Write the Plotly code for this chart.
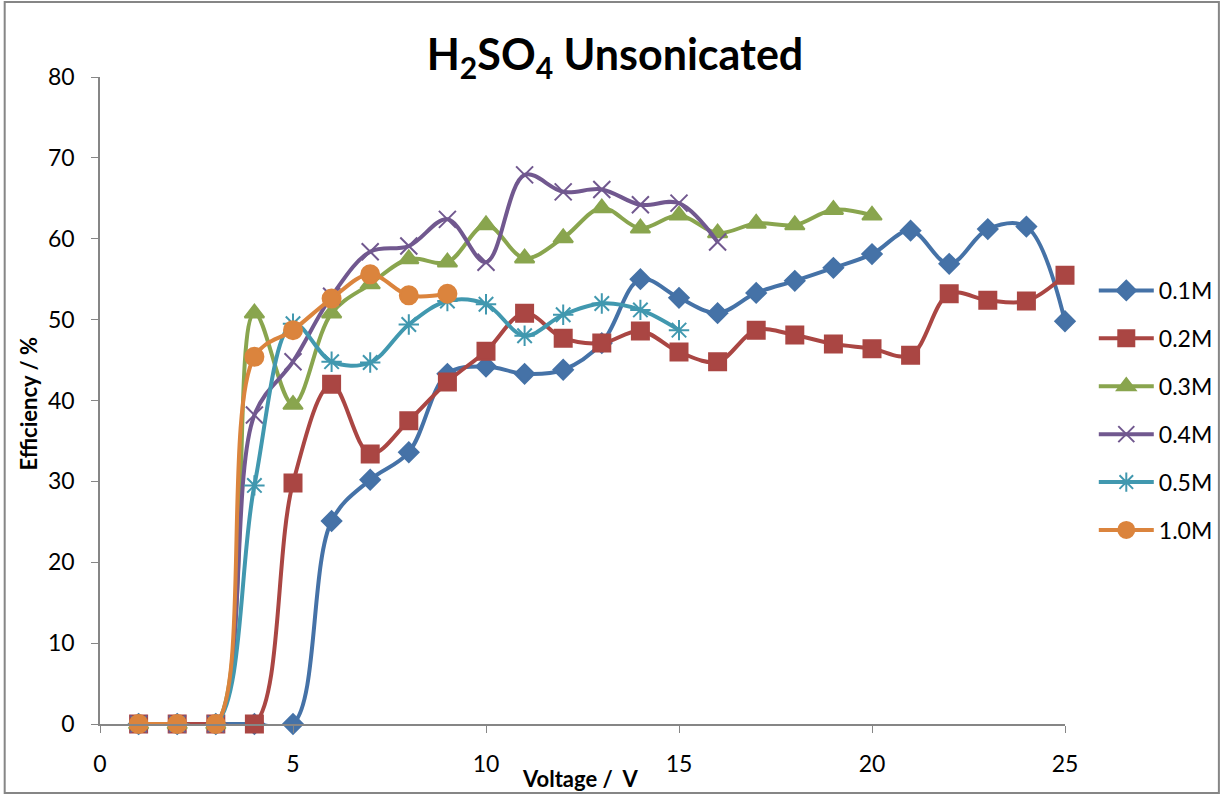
import plotly.graph_objects as go

# data
voltage = list(range(1, 26))
eff_01 = [0, 0, 0, 0, 0, 25.1, 30.2, 33.6, 43.3, 44.2, 43.3, 43.8, 47.1, 55.0, 52.7,
          50.8, 53.3, 54.8, 56.4, 58.1, 61.0, 56.9, 61.2, 61.5, 49.8]
eff_02 = [0, 0, 0, 0, 29.8, 42.0, 33.4, 37.5, 42.3, 46.1, 50.8, 47.7, 47.1, 48.6, 46.0,
          44.8, 48.7, 48.1, 47.0, 46.4, 45.6, 53.2, 52.4, 52.3, 55.5]
eff_03 = [0, 0, 0, 50.8, 39.5, 50.8, 54.4, 57.5, 57.1, 61.7, 57.6, 60.1, 63.8, 61.3, 62.9,
          60.7, 61.9, 61.7, 63.6, 62.9]
eff_04 = [0, 0, 0, 38.2, 44.8, 52.9, 58.4, 59.1, 62.4, 57.1, 67.9, 65.8, 66.1, 64.2, 64.4, 59.6]
eff_05 = [0, 0, 0, 29.5, 49.5, 44.8, 44.7, 49.4, 52.3, 51.9, 48.0, 50.6, 52.0, 51.2, 48.7]
eff_10 = [0, 0, 0, 45.4, 48.7, 52.6, 55.6, 53.0, 53.2]

series = [
    ("0.1M", eff_01, "#4572A7", "diamond", 15),
    ("0.2M", eff_02, "#AA4643", "square", 17),
    ("0.3M", eff_03, "#89A54E", "triangle-up", 17),
    ("0.4M", eff_04, "#71588F", "x-thin-open", 17),
    ("0.5M", eff_05, "#4198AF", "asterisk-open", 17),
    ("1.0M", eff_10, "#DB843D", "circle", 18),
]

font_family = "Lato, Carlito, Calibri, sans-serif"
axis_color = "#868686"

fig = go.Figure()

for name, vals, color, symbol, size in series:
    fig.add_trace(go.Scatter(
        x=voltage[:len(vals)],
        y=vals,
        name=name,
        mode="lines+markers",
        line=dict(color=color, width=4, shape="spline", smoothing=1.0),
        marker=dict(symbol=symbol, size=size, color=color,
                    line=dict(color=color, width=2)),
        legendgroup=name,
        cliponaxis=False,
    ))

fig.update_xaxes(
    range=[0, 25],
    tickvals=[0, 5, 10, 15, 20, 25],
    showline=True,
    linecolor=axis_color,
    linewidth=1.5,
    ticks="outside",
    ticklen=7,
    tickcolor=axis_color,
    ticklabelstandoff=12,
    showgrid=False,
    zeroline=False,
    tickfont=dict(size=23, color="black"),
)
fig.update_yaxes(
    range=[0, 80],
    tickvals=[0, 10, 20, 30, 40, 50, 60, 70, 80],
    showline=True,
    linecolor=axis_color,
    linewidth=1.5,
    ticks="outside",
    ticklen=7,
    tickcolor=axis_color,
    ticklabelstandoff=12,
    showgrid=False,
    zeroline=False,
    tickfont=dict(size=23, color="black"),
)

L, R, T, B = 100, 158, 77, 71
pw = 1230 - L - R
ph = 795 - T - B

fig.update_layout(
    width=1230,
    height=795,
    margin=dict(l=L, r=R, t=T, b=B),
    plot_bgcolor="white",
    paper_bgcolor="white",
    font=dict(family=font_family, size=23, color="black"),
    title=dict(
        text="H<sub>2</sub>SO<sub>4</sub> Unsonicated",
        x=0.5,
        xanchor="center",
        y=1 - 55 / 795,
        yanchor="middle",
        font=dict(size=43, family=font_family, weight="bold"),
    ),
    legend=dict(
        x=(1101 - L) / pw,
        xanchor="left",
        y=(724 - 269) / ph,
        yanchor="top",
        font=dict(size=23),
        tracegroupgap=15,
        itemwidth=55,
        bgcolor="rgba(0,0,0,0)",
    ),
    annotations=[
        dict(text="<b>Voltage /  V</b>", xref="paper", yref="paper",
             x=(584 - L) / pw, y=(724 - 778) / ph, xanchor="center", yanchor="middle",
             showarrow=False, font=dict(size=22)),
        dict(text="<b>Efficiency / %</b>", xref="paper", yref="paper",
             x=(27 - L) / pw, y=(724 - 404) / ph, xanchor="center", yanchor="middle",
             textangle=-90, showarrow=False, font=dict(size=22)),
    ],
    shapes=[
        dict(type="rect", xref="paper", yref="paper",
             x0=(4 - L) / pw, x1=(1227 - L) / pw,
             y0=(724 - 793) / ph, y1=(724 - 2) / ph,
             line=dict(color=axis_color, width=2), fillcolor="rgba(0,0,0,0)", layer="below"),
    ],
)

fig.write_html("out.html", config={"displayModeBar": False},
               post_script="document.body.style.margin = '0'; document.body.style.overflow = 'hidden';")
